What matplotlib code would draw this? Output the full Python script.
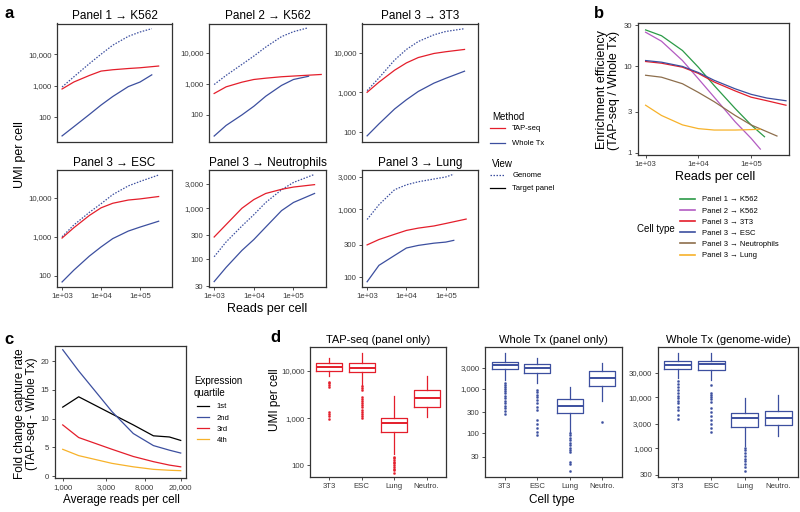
import matplotlib.pyplot as plt
from matplotlib.lines import Line2D
from matplotlib.ticker import FixedLocator, FuncFormatter, NullLocator

plt.rcParams['font.family'] = ['Liberation Sans', 'DejaVu Sans']

RED = '#e41e2b'
BLUE = '#3c4f9f'

## a: UMI per cell vs reads per cell (last value sits at the *_end reads)
a_titles = ['Panel 1 → K562', 'Panel 2 → K562', 'Panel 3 → 3T3',
            'Panel 3 → ESC', 'Panel 3 → Neutrophils', 'Panel 3 → Lung']
a_reads = [1e3, 2e3, 5e3, 1e4, 2e4, 5e4, 1e5, 2e5]
a_genome = [[900, 1900, 5000, 10000, 19400, 37000, 51000, 65000],
            [950, 1870, 4200, 7800, 15200, 33000, 47500, 62000],
            [1100, 2300, 6500, 12000, 19000, 28000, 34000, 40000],
            [1000, 2000, 4200, 7000, 12000, 20000, 26000, 38000],
            [113, 220, 450, 750, 1300, 2300, 3200, 4600],
            [710, 1170, 1950, 2300, 2550, 2800, 3000, 3300]]
a_genome_end = [2e5, 2.2e5, 3e5, 3e5, 3.4e5, 1.6e5]
a_tap = [[780, 1300, 2100, 2900, 3200, 3500, 3700, 4200],
         [490, 800, 1130, 1380, 1520, 1690, 1780, 2000],
         [1000, 1800, 3600, 5500, 7500, 9500, 10500, 12000],
         [930, 1700, 3500, 5500, 7200, 8700, 9300, 10700],
         [275, 480, 1000, 1480, 1950, 2350, 2600, 2900],
         [300, 360, 430, 490, 530, 570, 620, 720]]
a_tap_end = [3e5, 5e5, 3e5, 3e5, 3.4e5, 3.3e5]
a_whole = [[25, 49, 120, 240, 450, 930, 1300, 2200],
           [21, 46, 100, 190, 400, 890, 1380, 1750],
           [80, 160, 380, 650, 1050, 1700, 2250, 3400],
           [70, 140, 320, 550, 900, 1400, 1770, 2500],
           [37, 70, 150, 245, 430, 900, 1300, 1950],
           [86, 150, 210, 270, 295, 318, 330, 350]]
a_whole_end = [2e5, 2.4e5, 3e5, 3e5, 3.4e5, 1.6e5]
a_yticks = [[100, 1000, 10000], [100, 1000, 10000], [100, 1000, 10000],
            [100, 1000, 10000], [30, 100, 300, 1000, 3000], [100, 300, 1000, 3000]]

## b: enrichment efficiency
b_labels = ['Panel 1 → K562', 'Panel 2 → K562', 'Panel 3 → 3T3',
            'Panel 3 → ESC', 'Panel 3 → Neutrophils', 'Panel 3 → Lung']
b_colors = ['#2b9a47', '#b35bc2', RED, BLUE, '#8d6e4c', '#f7b22a']
b_reads = [1e3, 2e3, 5e3, 1e4, 2e4, 5e4, 1e5, 2e5]
b_ratio = [[26.5, 22.7, 15.3, 9.8, 6.0, 3.25, 2.1, 1.53],
           [24.9, 19.6, 11.7, 7.2, 4.4, 2.28, 1.47, 1.1],
           [11.4, 10.9, 9.8, 8.3, 6.6, 5.2, 4.4, 4.0, 3.55],
           [11.7, 11.2, 10.0, 8.5, 6.9, 5.5, 4.75, 4.3, 4.0],
           [7.9, 7.5, 6.3, 5.0, 3.9, 2.7, 2.1, 1.75, 1.56],
           [3.55, 2.7, 2.1, 1.9, 1.83, 1.83, 1.85, 1.87]]
b_end = [1.8e5, 1.5e5, 4.6e5, 4.6e5, 3.1e5, 1.5e5]

## c: fold change capture rate by expression quartile
c_reads = [1000, 1500, 3500, 6000, 10000, 15000, 20000]
c_labels = ['1st', '2nd', '3rd', '4th']
c_colors = ['black', BLUE, RED, '#f7b22a']
c_fold = [[12.0, 13.8, 10.8, 8.9, 7.0, 6.8, 6.2],
          [22.0, 18.3, 11.2, 7.4, 5.3, 4.5, 4.0],
          [8.9, 6.7, 4.65, 3.4, 2.5, 1.9, 1.6],
          [4.65, 3.55, 2.2, 1.6, 1.16, 1.0, 0.93]]

## d: UMI per cell boxplots
d_cats = ['3T3', 'ESC', 'Lung', 'Neutro.']
tap_med = [12300, 11700, 780, 2700]
tap_q1 = [10100, 9500, 500, 1700]
tap_q3 = [14500, 14500, 1030, 3950]
tap_lo = [7800, 5100, 174, 1050]
tap_hi = [18500, 23500, 2950, 7800]
tap_out = [[5900, 5500, 5000, 4600, 1380, 1250, 1100, 970],
           [4700, 4400, 4000, 2750, 2500, 2300, 2100, 1900, 1700, 1500, 1350, 1200, 1100, 1000],
           [150, 140, 130, 120, 110, 100, 92, 85, 78, 70],
           []]
wp_med = [3450, 3000, 420, 1800]
wp_q1 = [2750, 2300, 290, 1180]
wp_q3 = [3950, 3550, 590, 2500]
wp_lo = [1580, 1330, 110, 540]
wp_hi = [6300, 5000, 1100, 3900]
wp_out = [[1380, 1250, 1100, 1000, 900, 800, 700, 620, 550, 480, 420, 370, 320, 275],
          [950, 850, 750, 650, 560, 480, 400, 330, 200, 160, 130, 110, 93],
          [100, 90, 80, 70, 62, 55, 48, 42, 39, 23, 21, 14],
          [180]]
wg_med = [42500, 44000, 3900, 3900]
wg_q1 = [35000, 34000, 2600, 2900]
wg_q3 = [51000, 52000, 4900, 5400]
wg_lo = [24000, 22000, 1100, 1700]
wg_hi = [74000, 72000, 9700, 10800]
wg_out = [[20500, 18000, 16000, 14000, 12000, 10500, 9500, 8500, 7500, 6500, 5500, 4500, 3700],
          [17000, 12000, 11000, 10000, 9000, 8000, 6000, 5000, 4200, 3500, 3000, 2500, 2100],
          [1000, 900, 800, 700, 620, 550, 480, 420, 355],
          []]

W, H = 800, 512
fig = plt.figure(figsize=(8, 5.12), dpi=100)
comma = FuncFormatter(lambda v, p: f'{v:,.0f}')
sci = FuncFormatter(lambda v, p: f'{v:.0e}')


def px_axes(l, t, r, b):
    return fig.add_axes([l / W, 1 - b / H, (r - l) / W, (b - t) / H])


def style(ax, fs=5.6):
    for s in ax.spines.values():
        s.set_linewidth(0.9)
        s.set_color('#333333')
    ax.tick_params(length=2.5, width=0.6, labelsize=fs, pad=1.5,
                   colors='#333333', labelcolor='#3a3a3a')


def ftext(x, y, s, **kw):
    fig.text(x / W, 1 - y / H, s, **kw)


def with_end(grid, vals, end):
    return list(grid[:len(vals) - 1]) + [end]


# ---- panel a
cols = [(57, 172), (209, 326), (362, 478)]
rows = [(23.5, 142), (170, 287)]
a_ylim = [(16, 95000), (13.5, 87000), (56, 54000), (52, 51000), (29, 5600), (72, 3800)]
for i in range(6):
    l, r = cols[i % 3]
    t, b = rows[i // 3]
    ax = px_axes(l, t, r, b)
    ax.plot(with_end(a_reads, a_genome[i], a_genome_end[i]), a_genome[i],
            color=BLUE, lw=0.9, ls=(0, (1.2, 1.2)))
    ax.plot(with_end(a_reads, a_tap[i], a_tap_end[i]), a_tap[i], color=RED, lw=0.9)
    ax.plot(with_end(a_reads, a_whole[i], a_whole_end[i]), a_whole[i], color=BLUE, lw=0.9)
    ax.set_xscale('log')
    ax.set_yscale('log')
    ax.set_xlim(10 ** 2.87, 10 ** 5.82)
    ax.set_ylim(*a_ylim[i])
    ax.yaxis.set_major_locator(FixedLocator(a_yticks[i]))
    ax.yaxis.set_major_formatter(comma)
    ax.yaxis.set_minor_locator(NullLocator())
    ax.xaxis.set_major_locator(FixedLocator([1e3, 1e4, 1e5]))
    ax.xaxis.set_major_formatter(sci)
    ax.xaxis.set_minor_locator(NullLocator())
    style(ax)
    if i < 3:
        ax.tick_params(axis='x', bottom=False, labelbottom=False)
    ax.set_title(a_titles[i], fontsize=8.5, pad=3)

ftext(9, 14, 'a', fontsize=12, fontweight='bold', ha='center', va='center')
ftext(20, 155, 'UMI per cell', fontsize=9, rotation=90, ha='center', va='center')
ftext(267, 309, 'Reads per cell', fontsize=9, ha='center', va='center')

ftext(492, 117, 'Method', fontsize=7, va='center')
fig.legend([Line2D([], [], color=RED, lw=0.9), Line2D([], [], color=BLUE, lw=0.9)],
           ['TAP-seq', 'Whole Tx'], loc='upper left', bbox_to_anchor=(490 / W, 1 - 125 / H),
           frameon=False, fontsize=5.5, handlelength=1.9, handletextpad=1.0,
           labelspacing=1.0, borderpad=0, borderaxespad=0)
ftext(492, 164, 'View', fontsize=7, va='center')
fig.legend([Line2D([], [], color=BLUE, lw=0.9, ls=(0, (1.2, 1.2))), Line2D([], [], color='black', lw=0.9)],
           ['Genome', 'Target panel'], loc='upper left', bbox_to_anchor=(490 / W, 1 - 172 / H),
           frameon=False, fontsize=5.5, handlelength=1.9, handletextpad=1.0,
           labelspacing=0.75, borderpad=0, borderaxespad=0)

# ---- panel b
ax = px_axes(637.7, 23.3, 789, 155)
for vals, end, c in zip(b_ratio, b_end, b_colors):
    ax.plot(with_end(b_reads, vals, end), vals, color=c, lw=0.9)
ax.set_xscale('log')
ax.set_yscale('log')
ax.set_xlim(10 ** 2.85, 10 ** 5.72)
ax.set_ylim(10 ** -0.027, 10 ** 1.5)
ax.yaxis.set_major_locator(FixedLocator([1, 3, 10, 30]))
ax.yaxis.set_major_formatter(comma)
ax.yaxis.set_minor_locator(NullLocator())
ax.xaxis.set_major_locator(FixedLocator([1e3, 1e4, 1e5]))
ax.xaxis.set_major_formatter(sci)
ax.xaxis.set_minor_locator(NullLocator())
style(ax)
ftext(599, 14, 'b', fontsize=12, fontweight='bold', ha='center', va='center')
ftext(608, 90, 'Enrichment efficiency\n(TAP-seq / Whole Tx)', fontsize=9, rotation=90,
      ha='center', va='center', linespacing=1.05)
ftext(715, 177, 'Reads per cell', fontsize=9, ha='center', va='center')
ftext(637, 229, 'Cell type', fontsize=7, va='center')
fig.legend([Line2D([], [], color=c, lw=1.2) for c in b_colors], b_labels,
           loc='upper left', bbox_to_anchor=(680 / W, 1 - 196 / H), frameon=False,
           fontsize=5.5, handlelength=2.0, handletextpad=0.9, labelspacing=0.5,
           borderpad=0, borderaxespad=0)

# ---- panel c
ax = px_axes(55, 345.7, 185.7, 478.3)
for vals, c in zip(c_fold, c_colors):
    ax.plot(c_reads, vals, color=c, lw=0.9)
ax.set_xscale('log')
ax.set_xlim(822, 22700)
ax.set_ylim(-0.4, 22.7)
ax.xaxis.set_major_locator(FixedLocator([1000, 3000, 8000, 20000]))
ax.xaxis.set_major_formatter(comma)
ax.xaxis.set_minor_locator(NullLocator())
ax.yaxis.set_major_locator(FixedLocator([0, 5, 10, 15, 20]))
style(ax)
ftext(9, 339, 'c', fontsize=12, fontweight='bold', ha='center', va='center')
ftext(26, 414, 'Fold change capture rate\n(TAP-seq - Whole Tx)', fontsize=8.5, rotation=90,
      ha='center', va='center', linespacing=1.05)
ftext(121, 500, 'Average reads per cell', fontsize=8.5, ha='center', va='center')
ftext(194, 387, 'Expression\nquartile', fontsize=7, va='center', linespacing=1.3)
fig.legend([Line2D([], [], color=c, lw=0.9) for c in c_colors], c_labels,
           loc='upper left', bbox_to_anchor=(197 / W, 1 - 403 / H), frameon=False,
           fontsize=5.5, handlelength=1.6, handletextpad=1.0, labelspacing=0.5,
           borderpad=0, borderaxespad=0)

# ---- panel d
d_sets = [
    ('TAP-seq (panel only)', RED, tap_med, tap_q1, tap_q3, tap_lo, tap_hi, tap_out,
     (310, 446), (10 ** 1.746, 10 ** 4.515), [100, 1000, 10000]),
    ('Whole Tx (panel only)', BLUE, wp_med, wp_q1, wp_q3, wp_lo, wp_hi, wp_out,
     (485, 621.7), (10 ** 1.014, 10 ** 3.95), [30, 100, 300, 1000, 3000]),
    ('Whole Tx (genome-wide)', BLUE, wg_med, wg_q1, wg_q3, wg_lo, wg_hi, wg_out,
     (657.7, 798.3), (10 ** 2.426, 10 ** 4.99), [300, 1000, 3000, 10000, 30000]),
]
for title, c, med, q1, q3, lo, hi, out, (l, r), ylim, ticks in d_sets:
    ax = px_axes(l, 346.7, r, 477.3)
    stats = [dict(med=m, q1=a, q3=b_, whislo=w0, whishi=w1, fliers=f)
             for m, a, b_, w0, w1, f in zip(med, q1, q3, lo, hi, out)]
    ax.bxp(stats, positions=[1, 2, 3, 4], widths=0.8, showcaps=False,
           boxprops=dict(color=c, lw=0.9), whiskerprops=dict(color=c, lw=0.9),
           medianprops=dict(color=c, lw=1.4),
           flierprops=dict(marker='o', markersize=1.5, markerfacecolor=c,
                           markeredgecolor=c, markeredgewidth=0.3))
    ax.set_yscale('log')
    ax.set_ylim(*ylim)
    ax.set_xlim(0.4, 4.6)
    ax.yaxis.set_major_locator(FixedLocator(ticks))
    ax.yaxis.set_major_formatter(comma)
    ax.yaxis.set_minor_locator(NullLocator())
    ax.set_xticks([1, 2, 3, 4])
    ax.set_xticklabels(d_cats)
    style(ax)
    ax.set_title(title, fontsize=8, pad=3)

ftext(275, 338, 'd', fontsize=12, fontweight='bold', ha='center', va='center')
ftext(275, 400, 'UMI per cell', fontsize=8.5, rotation=90, ha='center', va='center')
ftext(552, 500, 'Cell type', fontsize=8.5, ha='center', va='center')

fig.savefig('out.png', dpi=100)
